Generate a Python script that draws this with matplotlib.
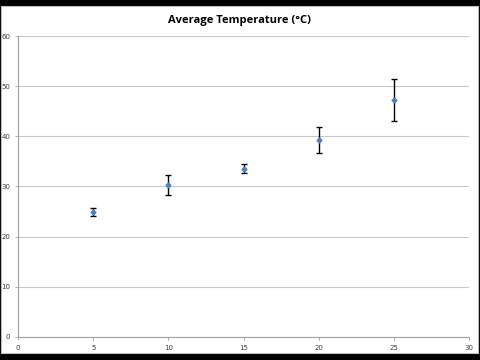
import matplotlib
matplotlib.use("Agg")
import matplotlib.pyplot as plt
from matplotlib.patches import Rectangle

x_vals = [5, 10, 15, 20, 25]
avg_temp = [25.0, 30.3, 33.5, 39.2, 47.2]
temp_err = [0.8, 1.9, 0.9, 2.6, 4.2]

fig = plt.figure(figsize=(4.8, 3.6), dpi=100)
fig.patch.set_facecolor("black")
# white chart sheet between the black bars
fig.patches.append(Rectangle((0.002, 0.019), 0.994, 0.963, transform=fig.transFigure,
                             facecolor="white", edgecolor="#bbbbbb", linewidth=0.8, zorder=-1))

ax = fig.add_axes([0.0375, 0.064, 0.94, 0.836])
ax.set_facecolor("white")
ax.errorbar(x_vals, avg_temp, yerr=temp_err, fmt="D", color="#4F81BD", markersize=2.5,
            ecolor="black", elinewidth=1.0, capsize=2, capthick=1.0, zorder=3)

ax.set_xlim(0, 30)
ax.set_ylim(0, 60)
ax.set_xticks(range(0, 31, 5))
ax.set_yticks(range(0, 61, 10))
ax.yaxis.grid(True, color="#c8c8c8", linewidth=0.8)
ax.set_axisbelow(True)
for s in ["top", "right"]:
    ax.spines[s].set_visible(False)
for s in ["left", "bottom"]:
    ax.spines[s].set_color("#a0a0a0")
    ax.spines[s].set_linewidth(0.8)
ax.tick_params(axis="both", labelsize=5, colors="#404040", length=2.5, width=0.6, pad=3)
ax.tick_params(axis="both", color="#a0a0a0")

fig.text(0.5, 0.942, "Average Temperature (°C)", ha="center", va="center",
         fontsize=8, fontweight="bold", family=["Open Sans", "DejaVu Sans"])

fig.savefig("out.png", dpi=100, facecolor=fig.get_facecolor())
